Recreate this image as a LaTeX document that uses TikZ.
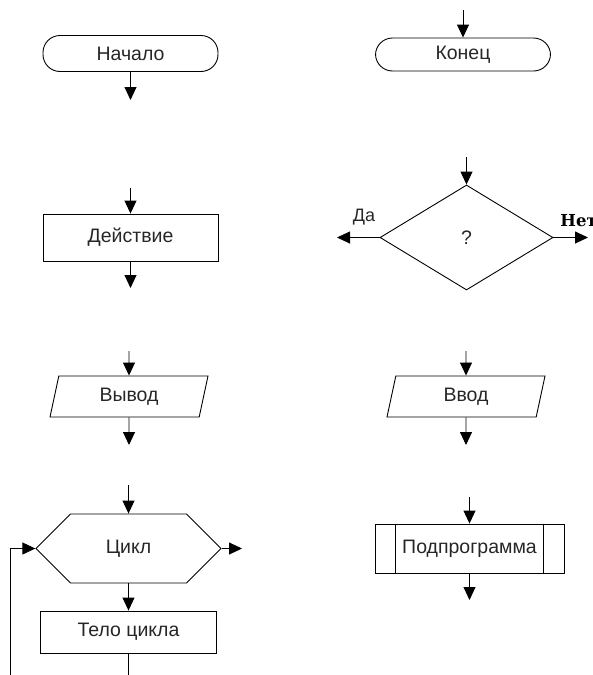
\documentclass[tikz,border=0pt]{standalone}
\usepackage{fontspec}
\setmainfont{Liberation Sans}
\newfontfamily\slabfont{DejaVu Serif}
\usetikzlibrary{arrows.meta,shapes.geometric,shapes.symbols,calc}

\begin{document}
\begin{tikzpicture}[x=1pt,y=-1pt,line width=0.9pt]

\tikzstyle {every node}=[font=\fontsize{19.5}{21}\selectfont, text=black!85];

\tikzstyle {term}=[draw,shape=rectangle,rounded corners=17pt,
     minimum width=175pt,minimum height=36pt];

\tikzstyle {proc}=[draw,shape=rectangle,
     minimum width=175pt,minimum height=47pt];

\tikzstyle {io}=[draw,shape=trapezium,trapezium left angle=63,trapezium right angle=117,
     trapezium stretches body,minimum width=158pt,minimum height=41pt,inner sep=0pt];

\tikzstyle {cond}=[draw,shape=diamond,
     minimum width=173pt,minimum height=105pt,inner sep=0pt];

\tikzstyle {loopbox}=[draw,shape=signal,signal to=east and west,signal pointer angle=90,
     minimum width=185pt,minimum height=69pt,inner sep=0pt];

\tikzstyle {flow}=[-{Triangle[length=13pt,width=12pt]}];

\useasboundingbox (0,0) rectangle (593,675);

% Begin and end
\draw (130.5,53.5) node [term] (start) {Начало};
\draw (463,54.5) node [term,minimum height=33pt] (stop) {Конец};
\coordinate (start-out) at (130.5,100);
\coordinate (stop-in) at (463,10);

% Action and condition
\draw (130.5,237.5) node [proc] (act) {Действие};
\coordinate (act-in) at (130.5,188);
\coordinate (act-out) at (130.5,288);

\draw (466.5,237.5) node [cond] (cond) {?};
\coordinate (cond-in) at (466.5,157);
\coordinate (yes-out) at (337,237.5);
\coordinate (no-out) at (588,237.5);
\draw (364,217) node [font=\fontsize{18}{20}\selectfont] (yes) {Да};
\draw (560,221) node [anchor=west,inner sep=0pt,
      font=\slabfont\bfseries\fontsize{16.5}{18}\selectfont,text=black] (no) {Нет};

% Output and input
\draw (129,396.5) node [io] (out) {Вывод};
\coordinate (out-in) at (129,351);
\coordinate (out-out) at (129,445);

\draw (466,396.5) node [io] (in) {Ввод};
\coordinate (in-in) at (466,351);
\coordinate (in-out) at (466,445);

% Loop with its body
\draw (128.5,548.5) node [loopbox] (loop) {Цикл};
\draw (128.5,632) node [proc,minimum width=176pt,minimum height=42pt] (body) {Тело цикла};
\coordinate (loop-in) at (128.5,485);
\coordinate (loop-out) at (242,548.5);
\coordinate (body-end) at (128.5,685);
\coordinate (back) at (10,685);

% Subprogram
\draw (469.5,548.5) node [proc,minimum width=189pt,minimum height=49pt] (sub) {Подпрограмма};
\draw ($(sub.north west)+(21,0)$) -- ($(sub.south west)+(21,0)$);
\draw ($(sub.north east)+(-21,0)$) -- ($(sub.south east)+(-21,0)$);
\coordinate (sub-in) at (469.5,497);
\coordinate (sub-out) at (469.5,600);

% Arrows
\draw [flow] (start.south) -- (start-out);
\draw [flow] (stop-in) -- (stop.north);
\draw [flow] (act-in) -- (act.north);
\draw [flow] (act.south) -- (act-out);
\draw [flow] (cond-in) -- (cond.north);
\draw [flow] (cond.west) -- (yes-out);
\draw [flow] (cond.east) -- (no-out);
\draw [flow] (out-in) -- (out.north);
\draw [flow] (out.south) -- (out-out);
\draw [flow] (in-in) -- (in.north);
\draw [flow] (in.south) -- (in-out);
\draw [flow] (loop-in) -- (loop.north);
\draw [flow] (loop.east) -- (loop-out);
\draw [flow] (loop.south) -- (body.north);
\draw (body.south) -- (body-end);
\draw [flow] (back) |- (loop.west);
\draw [flow] (sub-in) -- (sub.north);
\draw [flow] (sub.south) -- (sub-out);
\end{tikzpicture}
\end{document}
